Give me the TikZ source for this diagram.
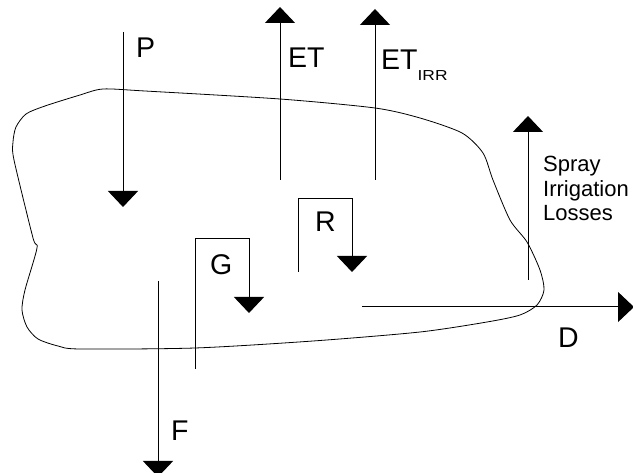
\documentclass[tikz,border=0pt]{standalone}
\usepackage{fontspec}
\setmainfont{Liberation Sans}
\usetikzlibrary{arrows.meta}
\begin{document}
\begin{tikzpicture}[x=1pt,y=-1pt,
  flow/.style={line width=1pt,-{Triangle[length=16pt,width=30pt]}},
  blob/.style={line width=0.8pt},
  big/.style={inner sep=0pt,anchor=base west,font=\fontsize{28.5}{30}\selectfont},
  small/.style={inner sep=0pt,anchor=north west,align=left,font=\fontsize{22}{24.5}\selectfont}]
\useasboundingbox (0,0) rectangle (633,473);
\fill[white] (0,0) rectangle (633,473);
% region outline
\draw[blob] plot[smooth cycle,tension=0.45] coordinates {
  (103,89) (145,91) (280,99) (375,108) (420,118) (462,133) (483,153) (493,180)
  (510,220) (527,242) (540,270) (544,290) (537,305) (520,315) (487,322)
  (420,332) (313,341) (195,348) (80,349) (58,346) (38,339) (27,327) (22,310)
  (25,290) (37,248) (33,238) (14,160) (13,142) (16,127) (26,114) (45,106) (80,95)};
% coordinates
\coordinate (p0) at (123,32);   \coordinate (p1) at (123,207);
\coordinate (e0) at (280,180);  \coordinate (e1) at (280,7);
\coordinate (i0) at (375,180);  \coordinate (i1) at (375,9);
\coordinate (s0) at (528,280);  \coordinate (s1) at (528,116);
\coordinate (r0) at (298,272);  \coordinate (r1) at (298,199);
\coordinate (r2) at (352,199);  \coordinate (r3) at (352,272);
\coordinate (g0) at (195,369);  \coordinate (g1) at (195,239);
\coordinate (g2) at (249,239);  \coordinate (g3) at (249,313);
\coordinate (f0) at (158,281);  \coordinate (f1) at (158,477);
\coordinate (d0) at (362,307);  \coordinate (d1) at (634,307);
% arrows
\draw[flow] (p0) -- (p1);
\draw[flow] (e0) -- (e1);
\draw[flow] (i0) -- (i1);
\draw[flow] (s0) -- (s1);
\draw[flow] (r0) -- (r1) -- (r2) -- (r3);
\draw[flow] (g0) -- (g1) -- (g2) -- (g3);
\draw[flow] (f0) -- (f1);
\draw[flow] (d0) -- (d1);
% labels
\node[big] (lp) at (136,58) {P};
\node[big] (let) at (288,68) {ET};
\node[big] (leti) at (381,70) {ET\raisebox{-11pt}{\scalebox{1.2}[1]{\fontsize{14.5}{15}\selectfont IRR}}};
\node[small] (ls) at (543,156) {Spray\\Irrigation\\Losses};
\node[big] (lr) at (315,232) {R};
\node[big] (lg) at (210,275) {G};
\node[big] (ld) at (558,348) {D};
\node[big] (lf) at (171,441) {F};
\end{tikzpicture}
\end{document}
